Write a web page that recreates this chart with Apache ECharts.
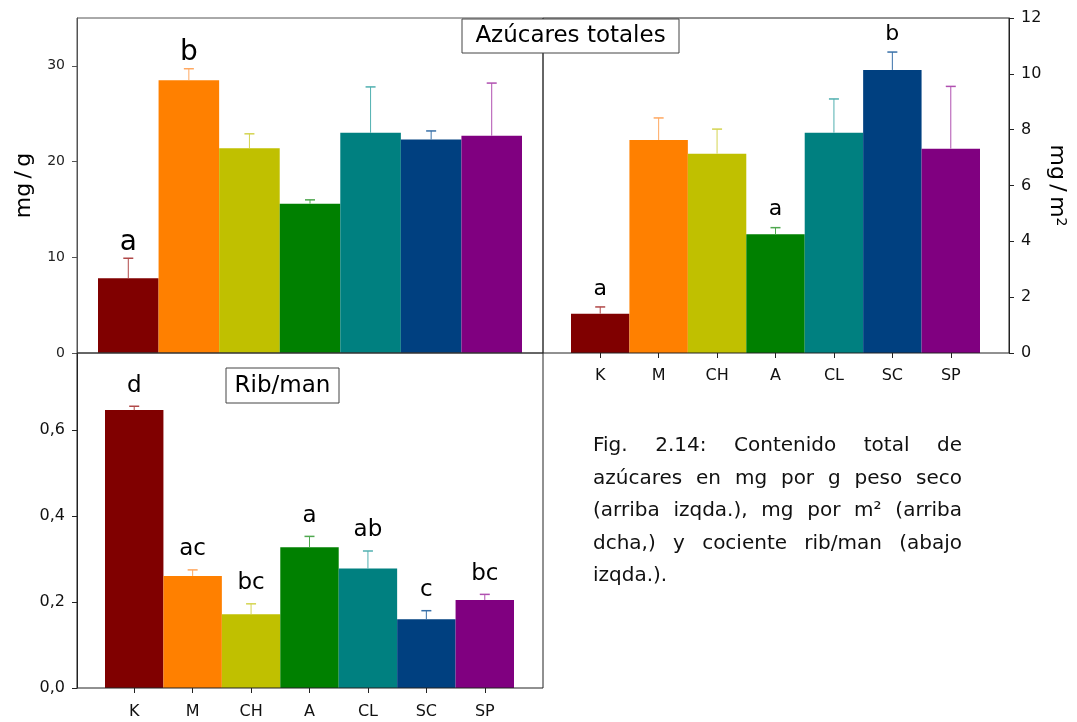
<!DOCTYPE html>
<html>
<head>
<meta charset="utf-8">
<title>Azúcares totales</title>
<script src="https://cdn.jsdelivr.net/npm/echarts/dist/echarts.min.js"></script>
<style>
  html, body { margin: 0; padding: 0; background: #fff; }
  #wrap { position: relative; width: 1077px; height: 722px; }
  #chart { position: absolute; left: 0; top: 0; width: 1077px; height: 722px; }
  #caption {
    position: absolute; left: 593px; top: 428px; width: 369px;
    font-family: "DejaVu Sans", sans-serif; font-size: 20px; line-height: 32.5px; color: #111;
  }
  #caption div { text-align: justify; text-align-last: justify; white-space: nowrap; }
  #caption div.last { text-align-last: left; }
</style>
</head>
<body>
<div id="wrap">
  <div id="chart"></div>
  <div id="caption">
    <div>Fig. 2.14: Contenido total de</div>
    <div>azúcares en mg por g peso seco</div>
    <div>(arriba izqda.), mg por m² (arriba</div>
    <div>dcha,) y cociente rib/man (abajo</div>
    <div class="last">izqda.).</div>
  </div>
</div>
<script>
// Varieties along the category axis
const categories = ['K', 'M', 'CH', 'A', 'CL', 'SC', 'SP'];
const barColors = ['#800000', '#ff8000', '#c0c000', '#008000', '#008080', '#004080', '#800080'];
const whiskerColors = ['#b04848', '#ffa860', '#d4d450', '#50a850', '#50b0b0', '#3870a8', '#b050b0'];

// Total sugars, mg per g dry weight (mean and upper error)
const sugarPerGram = [7.8, 28.5, 21.4, 15.6, 23.0, 22.3, 22.7];
const sugarPerGramErr = [2.1, 1.2, 1.5, 0.4, 4.8, 0.9, 5.5];
const sugarPerGramLetters = ['a', 'b', '', '', '', '', ''];
const sugarPerGramTicks = [0, 10, 20, 30];

// Total sugars, mg per m²
const sugarPerArea = [1.41, 7.63, 7.14, 4.25, 7.89, 10.14, 7.32];
const sugarPerAreaErr = [0.24, 0.79, 0.88, 0.24, 1.21, 0.64, 2.23];
const sugarPerAreaLetters = ['a', '', '', 'a', '', 'b', ''];
const sugarPerAreaTicks = [0, 2, 4, 6, 8, 10, 12];

// Ribose / mannose ratio
const ribManRatio = [0.647, 0.261, 0.172, 0.328, 0.278, 0.160, 0.205];
const ribManErr = [0.009, 0.014, 0.024, 0.025, 0.041, 0.020, 0.013];
const ribManLetters = ['d', 'ac', 'bc', 'a', 'ab', 'c', 'bc'];
const ribManTicks = [0, 0.2, 0.4, 0.6];

const FONT = 'DejaVu Sans';

function barSeries(idx, values) {
  return {
    type: 'bar', xAxisIndex: idx, yAxisIndex: idx, z: 2,
    barWidth: '100%', barCategoryGap: '0%',
    data: values.map((v, i) => ({ value: v, itemStyle: { color: barColors[i] } }))
  };
}

function whiskerSeries(idx, means, errs, letters, letterSize, letterGap) {
  return {
    type: 'custom', xAxisIndex: idx, yAxisIndex: idx, z: 4, clip: false,
    data: means.map((m, i) => [i, m, m + errs[i]]),
    renderItem(params, api) {
      const i = params.dataIndex;
      const base = api.coord([api.value(0), api.value(1)]);
      const top = api.coord([api.value(0), api.value(2)]);
      const cap = 5;
      const stroke = whiskerColors[i];
      const children = [
        { type: 'line', shape: { x1: base[0], y1: base[1], x2: top[0], y2: top[1] }, style: { stroke, lineWidth: 1 } },
        { type: 'line', shape: { x1: top[0] - cap, y1: top[1], x2: top[0] + cap, y2: top[1] }, style: { stroke, lineWidth: 1.5 } }
      ];
      if (letters[i]) {
        children.push({
          type: 'text', x: top[0], y: top[1] - letterGap,
          style: { text: letters[i], fill: '#000', fontSize: letterSize, fontFamily: FONT, align: 'center', verticalAlign: 'bottom' }
        });
      }
      return { type: 'group', children };
    }
  };
}

function categoryAxis(idx, withLabels, margin) {
  return {
    type: 'category', gridIndex: idx, data: categories,
    axisLine: { show: false },
    axisTick: { show: withLabels, alignWithLabel: true, length: 5, lineStyle: { color: '#222' } },
    axisLabel: { show: withLabels, fontSize: 16, color: '#111', margin: margin, fontFamily: FONT }
  };
}

function hiddenAxes(idx) {
  return [
    { type: 'value', gridIndex: idx, show: false, min: 0, max: 1 },
    { type: 'value', gridIndex: idx, show: false, min: 0, max: 1 }
  ];
}

const frameStyle = { show: true, backgroundColor: 'transparent', borderWidth: 1, z: 5 };

const option = {
  animation: false,
  textStyle: { fontFamily: FONT },
  grid: [
    // bar areas
    { left: 98, top: 18, width: 424, height: 335 },
    { left: 571, top: 18, width: 409, height: 335 },
    { left: 105, top: 353, width: 409, height: 335 },
    // panel frames
    Object.assign({ left: 77, top: 18, width: 466, height: 335, borderColor: '#555' }, frameStyle),
    Object.assign({ left: 543, top: 18, width: 466, height: 335, borderColor: '#222' }, frameStyle),
    Object.assign({ left: 77, top: 353, width: 466, height: 335, borderColor: '#222' }, frameStyle)
  ],
  xAxis: [
    categoryAxis(0, false, 0),
    categoryAxis(1, true, 15),
    categoryAxis(2, true, 16),
    hiddenAxes(3)[0], hiddenAxes(4)[0], hiddenAxes(5)[0]
  ],
  yAxis: [
    {
      type: 'value', gridIndex: 0, position: 'left', offset: 21, min: 0, max: 35,
      axisLine: { show: true, lineStyle: { color: '#555' } },
      axisTick: { show: true, length: 5, customValues: sugarPerGramTicks, lineStyle: { color: '#555' } },
      axisLabel: { customValues: sugarPerGramTicks, fontSize: 14, color: '#222', margin: 12 },
      splitLine: { show: false },
      name: 'mg\u2009/\u2009g', nameLocation: 'middle', nameGap: 42,
      nameTextStyle: { fontSize: 22, color: '#000' }
    },
    {
      type: 'value', gridIndex: 1, position: 'right', offset: 29, min: 0, max: 12, interval: 2,
      axisLine: { show: true, lineStyle: { color: '#222' } },
      axisTick: { show: true, length: 5, lineStyle: { color: '#222' } },
      axisLabel: { fontSize: 16, color: '#111', margin: 12 },
      splitLine: { show: false },
      name: 'mg\u2009/\u2009m{sup|2}', nameLocation: 'middle', nameGap: 36, nameRotate: -90,
      nameTextStyle: { fontSize: 22, color: '#000', rich: { sup: { fontSize: 14, verticalAlign: 'top', color: '#000' } } }
    },
    {
      type: 'value', gridIndex: 2, position: 'left', offset: 28, min: 0, max: 0.78,
      axisLine: { show: true, lineStyle: { color: '#222' } },
      axisTick: { show: true, length: 5, customValues: ribManTicks, lineStyle: { color: '#222' } },
      axisLabel: {
        customValues: ribManTicks, fontSize: 16, color: '#111', margin: 12,
        formatter: v => v.toFixed(1).replace('.', ',')
      },
      splitLine: { show: false }
    },
    hiddenAxes(3)[1], hiddenAxes(4)[1], hiddenAxes(5)[1]
  ],
  series: [
    barSeries(0, sugarPerGram),
    whiskerSeries(0, sugarPerGram, sugarPerGramErr, sugarPerGramLetters, 28, 2),
    barSeries(1, sugarPerArea),
    whiskerSeries(1, sugarPerArea, sugarPerAreaErr, sugarPerAreaLetters, 22, 7),
    barSeries(2, ribManRatio),
    whiskerSeries(2, ribManRatio, ribManErr, ribManLetters, 23, 9)
  ],
  graphic: [
    { type: 'rect', z: 100, shape: { x: 462, y: 19, width: 217, height: 34 }, style: { fill: '#fff', stroke: '#444', lineWidth: 1 } },
    { type: 'text', z: 101, x: 570.5, y: 36.5, style: { text: 'Azúcares totales', fontSize: 23, fontFamily: FONT, fill: '#000', align: 'center', verticalAlign: 'middle' } },
    { type: 'rect', z: 100, shape: { x: 226, y: 368, width: 113, height: 35 }, style: { fill: '#fff', stroke: '#444', lineWidth: 1 } },
    { type: 'text', z: 101, x: 282.5, y: 386, style: { text: 'Rib/man', fontSize: 23, fontFamily: FONT, fill: '#000', align: 'center', verticalAlign: 'middle' } }
  ]
};

const chart = echarts.init(document.getElementById('chart'), null, { renderer: 'canvas' });
chart.setOption(option);
</script>
</body>
</html>
